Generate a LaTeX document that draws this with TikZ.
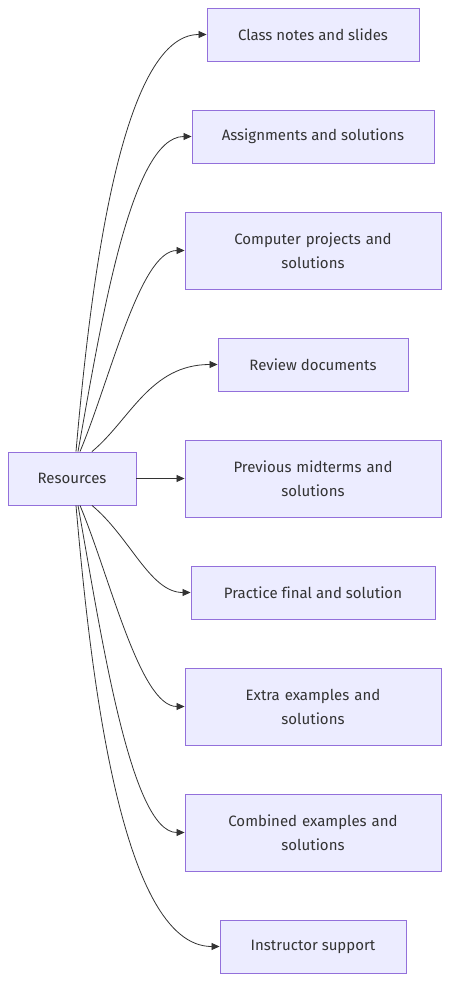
\documentclass[tikz,border=0pt]{standalone}
\usepackage{fontspec}
\setmainfont[Ligatures=NoCommon]{Fira Sans}
\usetikzlibrary{arrows.meta,positioning}
\definecolor{boxfill}{HTML}{ECECFF}
\definecolor{boxline}{HTML}{9370DB}
\definecolor{ink}{HTML}{333333}
\tikzset{
  res/.style={draw=boxline, fill=boxfill, text=ink, line width=0.9pt, minimum height=53pt, align=center, font=\fontsize{15}{24}\selectfont, inner sep=0pt},
  wide/.style={res, minimum height=77pt, minimum width=256pt, text width=200pt},
  link/.style={draw=ink, line width=0.8pt, -{Triangle[length=8pt,width=7pt]}}
}
\begin{document}
\begin{tikzpicture}[x=1pt,y=-1pt]
\useasboundingbox (0,0) rectangle (457,998);
\node[res, minimum width=128pt] (src) at (72,478.5) {Resources};
\node[res, minimum width=212pt] (notes) at (313,34.5) {Class notes and slides};
\node[res, minimum width=242pt] (assign) at (313,136.5) {Assignments and solutions};
\node[wide] (proj) at (313,250.5) {Computer projects and\\solutions};
\node[res, minimum width=190pt] (review) at (313,364.5) {Review documents};
\node[wide] (mid) at (313,478.5) {Previous midterms and\\solutions};
\node[res, minimum width=244pt] (final) at (313,592.5) {Practice final and solution};
\node[wide] (extra) at (313,706.5) {Extra examples and\\solutions};
\node[wide] (comb) at (313,832.5) {Combined examples and\\solutions};
\node[res, minimum width=186pt] (help) at (313,946.5) {Instructor support};
% edges up
\draw[link] ([xshift=4pt]src.north) .. controls (90,290) and (120,34.5) .. (notes.west);
\draw[link] ([xshift=6pt]src.north) .. controls (100,330) and (130,136.5) .. (assign.west);
\draw[link] ([xshift=8pt]src.north) .. controls (110,380) and (140,250.5) .. (proj.west);
\draw[link] ([xshift=20pt]src.north) .. controls (130,420) and (150,364.5) .. (review.west);
\draw[link] (src.east) -- (mid.west);
% edges down
\draw[link] ([xshift=20pt]src.south) .. controls (130,537) and (150,592.5) .. (final.west);
\draw[link] ([xshift=8pt]src.south) .. controls (110,577) and (140,706.5) .. (extra.west);
\draw[link] ([xshift=6pt]src.south) .. controls (100,627) and (130,832.5) .. (comb.west);
\draw[link] ([xshift=4pt]src.south) .. controls (90,667) and (120,946.5) .. (help.west);
\end{tikzpicture}
\end{document}
